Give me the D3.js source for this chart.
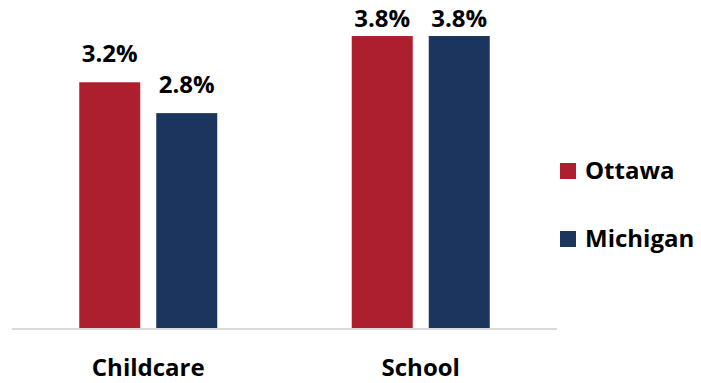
<!DOCTYPE html>
<html>
<head>
<meta charset="utf-8">
<script src="https://cdn.jsdelivr.net/npm/d3@7"></script>
<style>
  html, body { margin: 0; padding: 0; background: #ffffff; }
  svg { display: block; }
  text { font-family: "Open Sans", "Liberation Sans", sans-serif; font-weight: 700; fill: #000; }
</style>
</head>
<body>
<svg id="chart" width="701" height="383"></svg>
<script>
const categories = ["Childcare", "School"];
const seriesNames = ["Ottawa", "Michigan"];
const ottawaValues = [3.2, 3.8];
const michiganValues = [2.8, 3.8];
const seriesColors = ["#AD1F2F", "#1C355E"];

const seriesValues = [ottawaValues, michiganValues];
const svg = d3.select("#chart");

const baseY = 329;
const y = d3.scaleLinear().domain([0, 4]).range([baseY, 20.6]);
const x0 = d3.scaleBand().domain(categories).range([12, 557]).padding(0);
const groupW = 138;
const x1 = d3.scaleBand().domain(seriesNames).range([0, groupW]).paddingInner(0.208).paddingOuter(0);

// axis baseline
svg.append("line")
  .attr("x1", 12).attr("x2", 557)
  .attr("y1", baseY).attr("y2", baseY)
  .attr("stroke", "#d9d9d9").attr("stroke-width", 2);

const rows = [];
categories.forEach((c, ci) => {
  seriesNames.forEach((s, si) => {
    rows.push({cat: c, series: s, si, value: seriesValues[si][ci]});
  });
});

const gx = c => x0(c) + x0.bandwidth() / 2 - groupW / 2;

svg.append("g").selectAll("rect").data(rows).join("rect")
  .attr("x", d => gx(d.cat) + x1(d.series))
  .attr("width", x1.bandwidth())
  .attr("y", d => y(d.value))
  .attr("height", d => baseY - 1 - y(d.value))
  .attr("fill", d => seriesColors[d.si]);

svg.append("g").selectAll("text").data(rows).join("text")
  .attr("x", d => gx(d.cat) + x1(d.series) + x1.bandwidth() / 2)
  .attr("y", d => Math.max(y(d.value) - 20, 27))
  .attr("text-anchor", "middle")
  .attr("font-size", 24)
  .text(d => d.value.toFixed(1) + "%");

// category labels
svg.append("g").selectAll("text").data(categories).join("text")
  .attr("x", d => x0(d) + x0.bandwidth() / 2)
  .attr("y", 375.5)
  .attr("text-anchor", "middle")
  .attr("font-size", 24)
  .text(d => d);

// legend
const legend = svg.append("g").selectAll("g").data(seriesNames).join("g")
  .attr("transform", (d, i) => `translate(560, ${163 + i * 68})`);
legend.append("rect")
  .attr("width", 16).attr("height", 16)
  .attr("fill", (d, i) => seriesColors[i]);
legend.append("text")
  .attr("x", 25).attr("y", 16.3)
  .attr("font-size", 24)
  .text(d => d);
</script>
</body>
</html>
